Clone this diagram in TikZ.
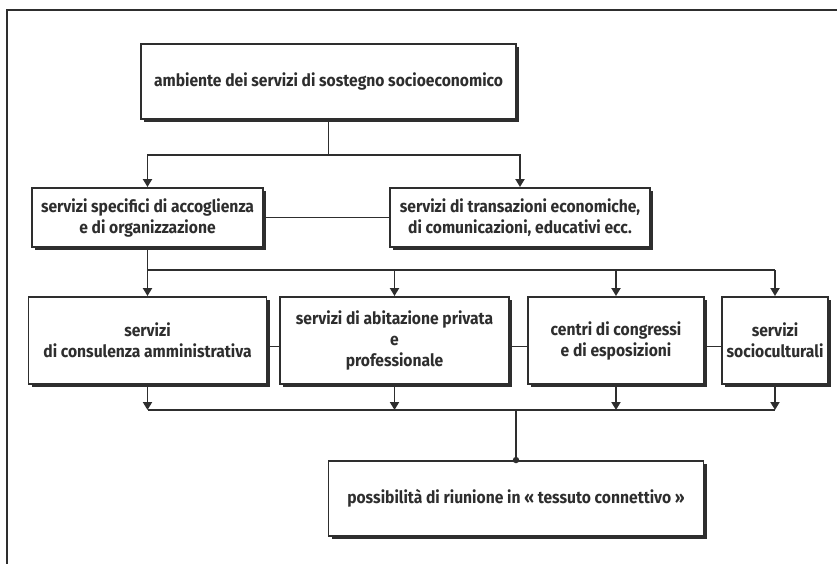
\documentclass[tikz,border=0pt]{standalone}
\usepackage{fontspec}
\setmainfont{Fira Sans}[FakeStretch=0.92]
\usetikzlibrary{arrows.meta,positioning,shadows}
\definecolor{ink}{HTML}{2E2E2E}
\tikzset{
	line/.style={draw=ink, line width=1.9pt},
	arr/.style={line, -{Triangle[width=9pt,length=8pt]}},
	box/.style={
		draw=ink, line width=1.9pt, fill=white, align=center, inner sep=2pt,
		font=\fontsize{17}{21}\selectfont\bfseries, text=ink,
		drop shadow={shadow xshift=3pt, shadow yshift=-3pt, fill=ink, opacity=1}
	}
}

\begin{document}
\begin{tikzpicture}[x=1pt, y=-1pt]
        \useasboundingbox (0,0) rectangle (837,564);
        \draw[ink, line width=1.8pt] (7,564) -- (7,10) -- (837,10);
        \node[box, minimum width=375pt, minimum height=75pt] (n_0) at (328.5,81.5)
            {ambiente dei servizi di sostegno socioeconomico};
        \node[box, minimum width=231pt, minimum height=59pt] (n_1) at (147.5,217.5)
            {servizi specifici di accoglienza\\ e di organizzazione};
        \node[box, minimum width=260pt, minimum height=59pt] (n_2) at (520,217.5)
            {servizi di transazioni economiche,\\ di comunicazioni, educativi ecc.};
        \node[box, minimum width=238pt, minimum height=87pt] (n_3) at (147.5,340.5)
            {servizi\\ di consulenza amministrativa};
        \node[box, minimum width=229pt, minimum height=87pt] (n_4) at (394.5,340.5)
            {servizi di abitazione privata\\ e\\ professionale};
        \node[box, minimum width=176pt, minimum height=87pt] (n_5) at (616,340.5)
            {centri di congressi\\ e di esposizioni};
        \node[box, minimum width=106pt, minimum height=87pt] (n_6) at (775,340.5)
            {servizi\\ socioculturali};
        \node[box, minimum width=375pt, minimum height=75pt] (n_7) at (516,498.5)
            {possibilità di riunione in « tessuto connettivo »};
        \coordinate (b_0) at (328.5,155);
        \coordinate (b_1) at (147.5,270);
        \coordinate (b_2) at (516,410);
        \draw[line] (n_0.south) -- (b_0);
        \draw[arr] (b_0) -| (n_1.north);
        \draw[arr] (b_0) -| (n_2.north);
        \draw[line] (n_1.east) -- (n_2.west |- n_1.east);
        \draw[line] (n_1.south) |- (n_6.north |- b_1);
        \foreach \n in {n_3,n_4,n_5,n_6}
            \draw[arr] (\n.north |- b_1) -- (\n.north);
        \draw[line] ([yshift=-6pt]n_3.east) -- ([yshift=-6pt]n_4.west);
        \draw[line] ([yshift=-6pt]n_4.east) -- ([yshift=-6pt]n_5.west);
        \draw[line] ([yshift=-6pt]n_5.east) -- ([yshift=-6pt]n_6.west);
        \foreach \n in {n_3,n_4,n_5,n_6}
            \draw[arr] (\n.south) -- (\n.south |- b_2);
        \draw[line] (n_3.south |- b_2) -- (n_6.south |- b_2);
        \draw[line] (b_2) -- (n_7.north);
        \fill[ink] (n_7.north) circle (3.2pt);
\end{tikzpicture}
\end{document}
